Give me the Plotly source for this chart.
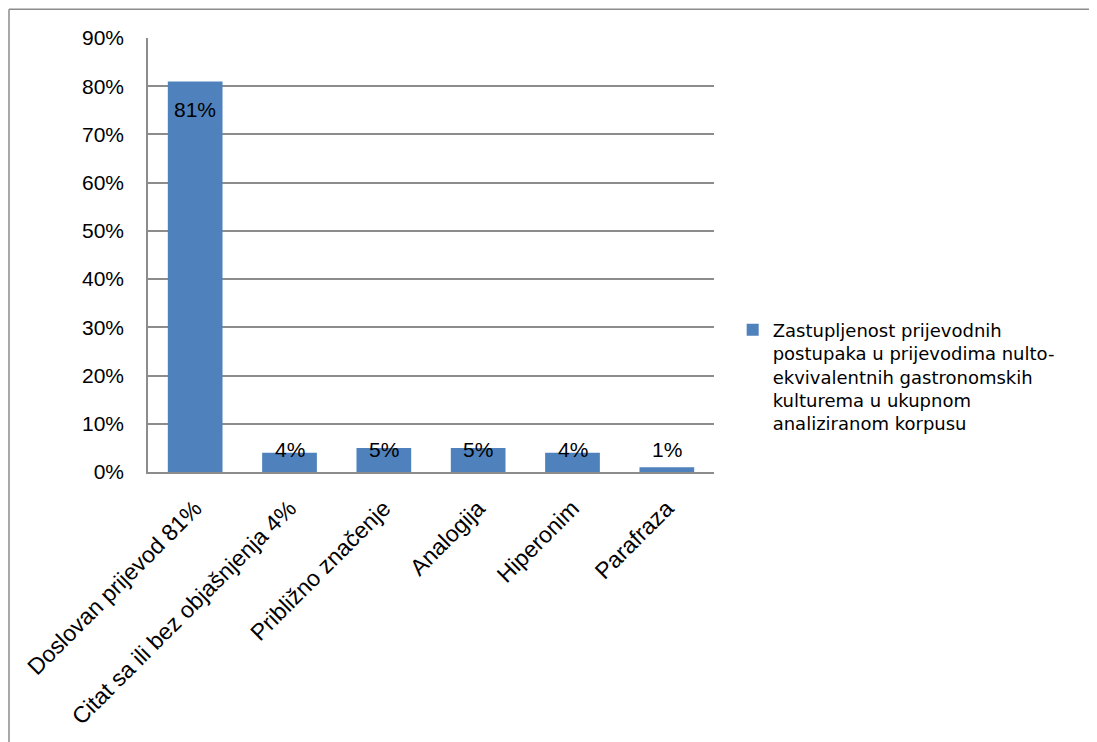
import plotly.graph_objects as go

categories = ["Doslovan prijevod 81%", "Citat sa ili bez objašnjenja 4%", "Približno značenje",
              "Analogija", "Hiperonim", "Parafraza"]
values = [0.81, 0.04, 0.05, 0.05, 0.04, 0.01]
labels = ["81%", "4%", "5%", "5%", "4%", "1%"]
series_name = ("Zastupljenost prijevodnih<br>postupaka u prijevodima nulto-<br>"
               "ekvivalentnih gastronomskih<br>kulturema u ukupnom<br>analiziranom korpusu")
tick_vals = [0, 0.1, 0.2, 0.3, 0.4, 0.5, 0.6, 0.7, 0.8, 0.9]
tick_text = ["0%", "10%", "20%", "30%", "40%", "50%", "60%", "70%", "80%", "90%"]

FONT = "Liberation Sans"
BLUE = "#4F81BD"
GRID = "#8C8C8C"

fig = go.Figure()
fig.add_trace(go.Bar(x=categories, y=values, name=series_name, marker=dict(color=BLUE, line=dict(width=0)),
                     width=0.58, showlegend=True))

for c, v, t in zip(categories, values, labels):
    if v > 0.2:
        fig.add_annotation(x=c, y=v, text=t, showarrow=False, yanchor="top", yshift=-15,
                           font=dict(family=FONT, size=21, color="black"))
    else:
        fig.add_annotation(x=c, y=0, text=t, showarrow=False, yanchor="bottom", yshift=9,
                           font=dict(family=FONT, size=21, color="black"))

# outer chart border (left and top edges visible in the frame)
fig.add_shape(type="line", xref="paper", yref="paper", x0=-0.2456, x1=-0.2456, y0=-0.7, y1=1.0665,
              line=dict(color="#8C8C8C", width=1.5), layer="below")
fig.add_shape(type="line", xref="paper", yref="paper", x0=-0.2456, x1=1.9, y0=1.0665, y1=1.0665,
              line=dict(color="#8C8C8C", width=1.5), layer="below")

fig.update_layout(
    width=1097, height=734,
    margin=dict(l=140, r=391, t=30, b=268),
    paper_bgcolor="white", plot_bgcolor="white",
    font=dict(family=FONT, size=20, color="black"),
    bargap=0.42,
    legend=dict(x=1.033, y=0.22, xanchor="left", yanchor="middle", valign="top",
                font=dict(family="DejaVu Sans", size=18, color="black"),
                itemwidth=30, tracegroupgap=0),
)
fig.update_xaxes(tickangle=-45, showline=True, linecolor=GRID, linewidth=1.5, ticks="",
                 ticklabelstandoff=12,
                 tickfont=dict(family=FONT, size=23), showgrid=False)
fig.update_yaxes(range=[0, 0.9], tickvals=tick_vals, ticktext=tick_text, showgrid=True,
                 gridcolor=GRID, gridwidth=1.5, showline=True, linecolor=GRID, linewidth=1.5,
                 ticks="", ticklabelstandoff=18, tickfont=dict(family=FONT, size=21), zeroline=False)

fig.write_html("out.html")
